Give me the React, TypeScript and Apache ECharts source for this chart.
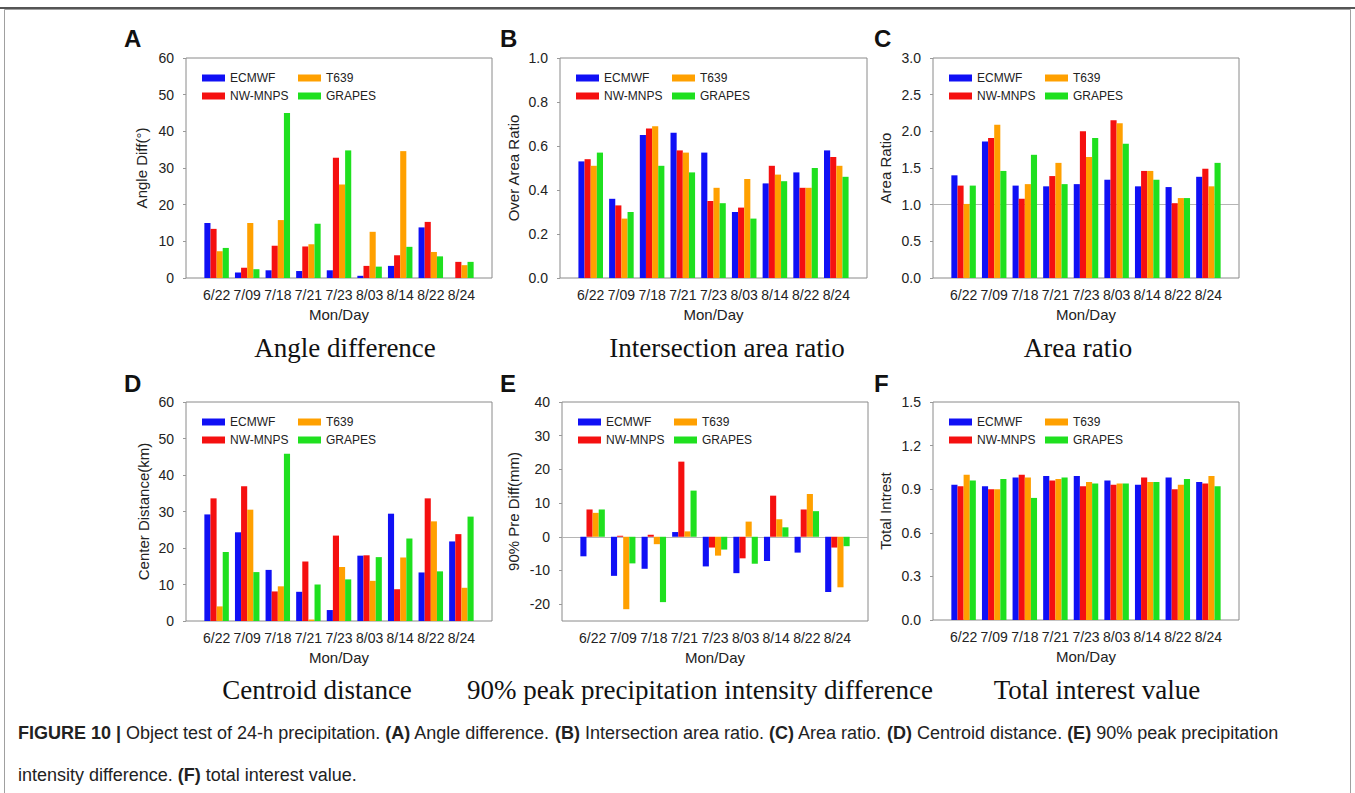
import React, { useEffect, useRef } from "react";
import * as echarts from "echarts";

const categories = ["6/22", "7/09", "7/18", "7/21", "7/23", "8/03", "8/14", "8/22", "8/24"];
const models = ["ECMWF", "NW-MNPS", "T639", "GRAPES"];
const colors = ["#1010f5", "#f51010", "#ffa000", "#1fe01f"];

// A: Angle difference
const angleEcmwf = [15, 1.5, 2.1, 1.9, 2.1, 0.6, 3.3, 13.8, 0];
const angleNw = [13.4, 2.8, 8.8, 8.6, 32.8, 3.3, 6.2, 15.3, 4.4];
const angleT639 = [7.3, 15, 15.8, 9.2, 25.5, 12.6, 34.6, 7.1, 3.5];
const angleGrapes = [8.2, 2.4, 45, 14.8, 34.8, 3.1, 8.5, 5.9, 4.4];

// B: Intersection area ratio
const overEcmwf = [0.53, 0.36, 0.65, 0.66, 0.57, 0.3, 0.43, 0.48, 0.58];
const overNw = [0.54, 0.33, 0.68, 0.58, 0.35, 0.32, 0.51, 0.41, 0.55];
const overT639 = [0.51, 0.27, 0.69, 0.57, 0.41, 0.45, 0.47, 0.41, 0.51];
const overGrapes = [0.57, 0.3, 0.51, 0.48, 0.34, 0.27, 0.44, 0.5, 0.46];

// C: Area ratio
const areaEcmwf = [1.4, 1.86, 1.26, 1.25, 1.28, 1.34, 1.25, 1.24, 1.38];
const areaNw = [1.26, 1.91, 1.08, 1.39, 2.0, 2.15, 1.46, 1.02, 1.49];
const areaT639 = [1.01, 2.09, 1.28, 1.57, 1.65, 2.11, 1.46, 1.09, 1.25];
const areaGrapes = [1.26, 1.46, 1.68, 1.28, 1.91, 1.83, 1.34, 1.09, 1.57];

// D: Centroid distance
const distEcmwf = [29.2, 24.3, 14.0, 8.0, 3.0, 17.9, 29.4, 13.3, 21.8];
const distNw = [33.6, 36.9, 8.1, 16.3, 23.4, 18.0, 8.7, 33.6, 23.8];
const distT639 = [4.0, 30.5, 9.5, 0.4, 14.8, 11.0, 17.4, 27.3, 9.1];
const distGrapes = [18.9, 13.4, 45.8, 10.0, 11.4, 17.5, 22.6, 13.6, 28.6];

// E: 90% peak precipitation intensity difference
const preEcmwf = [-5.8, -11.6, -9.5, 1.4, -8.8, -10.8, -7.2, -4.7, -16.4];
const preNw = [8.1, 0.3, 0.6, 22.3, -3.2, -6.4, 12.2, 8.1, -3.2];
const preT639 = [7.1, -21.5, -2.2, 1.6, -5.6, 4.5, 5.2, 12.7, -15.0];
const preGrapes = [8.1, -7.9, -19.4, 13.7, -3.8, -8.0, 2.8, 7.6, -2.8];

// F: Total interest value
const totalEcmwf = [0.93, 0.92, 0.98, 0.99, 0.99, 0.96, 0.93, 0.98, 0.95];
const totalNw = [0.92, 0.9, 1.0, 0.96, 0.92, 0.93, 0.98, 0.9, 0.94];
const totalT639 = [1.0, 0.9, 0.98, 0.97, 0.95, 0.94, 0.95, 0.93, 0.99];
const totalGrapes = [0.96, 0.97, 0.84, 0.98, 0.94, 0.94, 0.95, 0.97, 0.92];

const ePreTicks = [-20, -10, 0, 10, 20, 30, 40];

const panels = [
  { letter: "A", title: "Angle difference", yName: "Angle Diff(°)", min: 0, max: 60, interval: 10, dec: 0, data: [angleEcmwf, angleNw, angleT639, angleGrapes], left: 186, top: 58, width: 306, height: 220, nameGap: 37, refLine: null as number | null },
  { letter: "B", title: "Intersection area ratio", yName: "Over Area Ratio", min: 0, max: 1, interval: 0.2, dec: 1, data: [overEcmwf, overNw, overT639, overGrapes], left: 560, top: 58, width: 307, height: 220, nameGap: 39, refLine: null },
  { letter: "C", title: "Area ratio", yName: "Area Ratio", min: 0, max: 3, interval: 0.5, dec: 1, data: [areaEcmwf, areaNw, areaT639, areaGrapes], left: 933, top: 58, width: 306, height: 220, nameGap: 40, refLine: 1 },
  { letter: "D", title: "Centroid distance", yName: "Center Distance(km)", min: 0, max: 60, interval: 10, dec: 0, data: [distEcmwf, distNw, distT639, distGrapes], left: 186, top: 402, width: 306, height: 219, nameGap: 35, refLine: null },
  { letter: "E", title: "90% peak precipitation intensity difference", yName: "90% Pre Diff(mm)", min: -25, max: 40, interval: 0, dec: 0, data: [preEcmwf, preNw, preT639, preGrapes], left: 562, top: 402, width: 306, height: 219, nameGap: 41, refLine: 0 },
  { letter: "F", title: "Total interest value", yName: "Total Intrest", min: 0, max: 1.5, interval: 0.3, dec: 1, data: [totalEcmwf, totalNw, totalT639, totalGrapes], left: 933, top: 402, width: 306, height: 218, nameGap: 40, refLine: null },
];

const titleCenters = [345, 727, 1078, 317, 700, 1097];
const letterPos = [[124, 26], [500, 26], [874, 26], [124, 371], [500, 371], [874, 371]];

const SANS = '"Liberation Sans", Arial, Helvetica, sans-serif';
const SERIF = '"Liberation Serif", "Times New Roman", serif';

function buildOption() {
  const grid: any[] = [];
  const xAxis: any[] = [];
  const yAxis: any[] = [];
  const series: any[] = [];
  const legend: any[] = [];
  const graphic: any[] = [];
  const padCats = ["", ...categories, ""];

  panels.forEach((p, i) => {
    grid.push({
      left: p.left, top: p.top, width: p.width, height: p.height,
      show: true, borderColor: "#8a8a8a", borderWidth: 1, backgroundColor: "transparent",
    });
    xAxis.push({
      type: "category", gridIndex: i, data: padCats, boundaryGap: false,
      axisLine: { show: false }, axisTick: { show: false },
      axisLabel: { interval: 0, fontSize: 14, color: "#222", fontFamily: SANS, margin: 10 },
      name: "Mon/Day", nameLocation: "middle", nameGap: 29,
      nameTextStyle: { fontSize: 15, color: "#222", fontFamily: SANS },
      splitLine: { show: false },
    });
    const y: any = {
      type: "value", gridIndex: i, min: p.min, max: p.max,
      axisLine: { show: false },
      axisTick: { show: true, length: 3, lineStyle: { color: "#999" } },
      splitLine: { show: false },
      axisLabel: {
        fontSize: 14, color: "#222", fontFamily: SANS, margin: 12,
        formatter: (v: number) => v.toFixed(p.dec),
      },
      name: p.yName, nameLocation: "middle", nameGap: p.nameGap, nameRotate: 90,
      nameTextStyle: { fontSize: 15, color: "#222", fontFamily: SANS },
    };
    if (p.interval) {
      y.interval = p.interval;
    } else {
      y.axisLabel.customValues = ePreTicks;
      y.axisTick.customValues = ePreTicks;
    }
    yAxis.push(y);

    models.forEach((m, k) => {
      const s: any = {
        type: "bar", name: m, xAxisIndex: i, yAxisIndex: i,
        data: [null, ...p.data[k], null],
        barGap: "0%", barCategoryGap: "20%",
        itemStyle: { color: colors[k] },
        emphasis: { disabled: true },
      };
      if (k === 0 && p.refLine !== null) {
        s.markLine = {
          silent: true, symbol: ["none", "none"],
          label: { show: false },
          lineStyle: { color: "#b5b5b5", width: 1, type: "solid" },
          data: [{ yAxis: p.refLine }],
          z: 1,
        };
      }
      series.push(s);
    });

    const legCommon = {
      orient: "vertical", itemWidth: 23, itemHeight: 7, itemGap: 6, padding: 0,
      icon: "rect", selectedMode: false,
      textStyle: { fontSize: 12, color: "#222", fontFamily: SANS },
      top: p.top + 14,
    };
    legend.push({ ...legCommon, left: p.left + 16, data: ["ECMWF", "NW-MNPS"] });
    legend.push({ ...legCommon, left: p.left + 112, data: ["T639", "GRAPES"] });

    graphic.push({
      type: "text", left: letterPos[i][0], top: letterPos[i][1],
      style: { text: p.letter, font: `bold 24px ${SANS}`, fill: "#111" },
    });
    graphic.push({
      type: "text", x: titleCenters[i], y: i < 3 ? 348 : 690,
      style: { text: p.title, font: `27px ${SERIF}`, fill: "#111", textAlign: "center", textVerticalAlign: "middle" },
    });
  });

  graphic.push({
    type: "rect", shape: { x: 4.5, y: 9.5, width: 1346, height: 790 },
    style: { fill: "none", stroke: "#a0a0a0", lineWidth: 1 }, z: -1,
  });
  graphic.push({
    type: "line", shape: { x1: 0, y1: 8, x2: 1355, y2: 8 },
    style: { stroke: "#555", lineWidth: 2 },
  });
  const rich = { b: { fontWeight: "bold", fontSize: 18, fontFamily: SANS, fill: "#222" } };
  graphic.push({
    type: "text", x: 18, y: 733,
    style: {
      text: "{b|FIGURE 10 |} Object test of 24-h precipitation. {b|(A)} Angle difference. {b|(B)} Intersection area ratio. {b|(C)} Area ratio. {b|(D)} Centroid distance. {b|(E)} 90% peak precipitation",
      font: `18px ${SANS}`, fill: "#222", textVerticalAlign: "middle", rich,
    },
  });
  graphic.push({
    type: "text", x: 18, y: 775,
    style: {
      text: "intensity difference. {b|(F)} total interest value.",
      font: `18px ${SANS}`, fill: "#222", textVerticalAlign: "middle", rich,
    },
  });

  return {
    animation: false,
    backgroundColor: "#ffffff",
    grid, xAxis, yAxis, series, legend, graphic,
  };
}

export default function App() {
  const ref = useRef<HTMLDivElement>(null);
  useEffect(() => {
    if (!ref.current) return;
    const chart = echarts.init(ref.current, undefined, { renderer: "svg" });
    chart.setOption(buildOption() as any);
    return () => chart.dispose();
  }, []);
  return (
    <div
      ref={ref}
      style={{ position: "fixed", left: 0, top: 0, width: 1355, height: 793, background: "#fff" }}
    />
  );
}
